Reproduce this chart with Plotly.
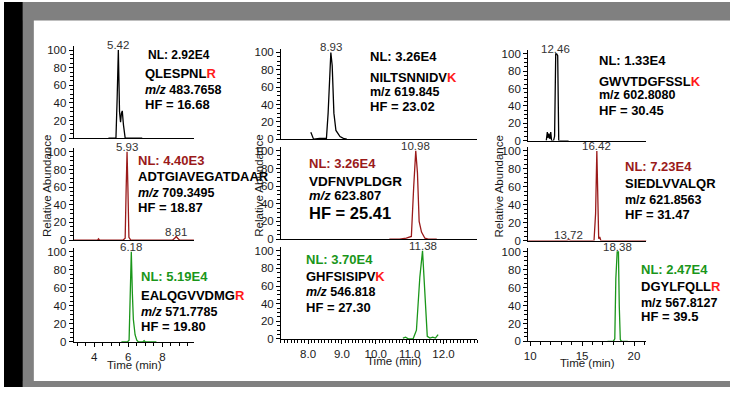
import plotly.graph_objects as go

W, H = 730, 393
FONT = "Liberation Sans, Arial, sans-serif"
BLACK = "#000000"
DRED = "#9a1a1a"
GREEN = "#1a961a"
RED = "#ff1a1a"

# ---------------- data ----------------
# row 1 (black), row 2 (dark red), row 3 (green); columns left -> right
a_time = [4.84, 5.1, 5.28, 5.35, 5.42, 5.49, 5.55, 5.6, 5.65, 5.72, 5.82, 6.2, 6.82]
a_int = [0, 0, 0, 45, 100, 30, 18, 28, 31, 15, 0, 0, 0]

b_time = [8.34, 8.38, 8.42, 8.6, 8.8, 8.85, 8.9, 8.93, 8.97, 9.02, 9.08, 9.12, 9.2, 9.3, 9.4]
b_int = [8, 3, 0, 1, 1, 30, 90, 100, 85, 30, 10, 8, 3, 1, 0]

c_time = [11.55, 11.65, 11.72, 11.8, 11.9, 11.98, 12.06, 12.15, 12.25, 12.35, 12.42, 12.46,
          12.55, 12.65, 12.75, 13.0, 13.7]
c_int = [0, 10, 3, 8, 2, 10, 0, 0, 0, 5, 90, 100, 100, 98, 0, 0, 0]

d_time = [2.8, 4.2, 4.26, 4.32, 5.7, 5.82, 5.88, 5.93, 5.98, 6.04, 6.15, 8.6, 8.72, 8.81,
          8.9, 9.0, 9.85]
d_int = [0, 0, 1.5, 0, 0, 2, 60, 100, 60, 3, 0, 0, 2, 4, 2, 0, 0]

e_time = [10.2, 10.5, 10.7, 10.85, 10.92, 10.98, 11.03, 11.08, 11.15, 11.25, 11.35, 11.6]
e_int = [0, 0, 1, 3, 60, 100, 75, 20, 8, 1, 0, 0]

f_time = [9.8, 13.5, 13.72, 13.9, 16.15, 16.3, 16.42, 16.52, 16.6, 16.7, 16.8, 21.2]
f_int = [0, 0, 1, 0, 0, 30, 100, 30, 2, 4, 0, 0]

g_time = [5.6, 5.95, 6.05, 6.12, 6.18, 6.24, 6.3, 6.4, 6.5, 6.6, 6.85, 6.93, 7.0, 7.65]
g_int = [0, 0, 2, 60, 100, 55, 25, 8, 2, 0, 0, 1.5, 0, 0]

h_time = [10.8, 10.88, 10.97, 11.1, 11.2, 11.3, 11.38, 11.45, 11.52, 11.6, 11.68, 11.76, 11.84]
h_int = [1, 2, 0, 0, 10, 70, 100, 50, 3, 1, 2, 1, 5]

i_time = [17.45, 18.0, 18.15, 18.25, 18.38, 18.5, 18.58, 18.68, 18.8, 19.4]
i_int = [0, 0, 3, 70, 100, 100, 40, 2, 0, 0]

nl_labels = ["2.92E4", "3.26E4", "1.33E4", "4.40E3", "3.26E4", "7.23E4", "5.19E4", "3.70E4", "2.47E4"]
peptides = ["QLESPNLR", "NILTSNNIDVK", "GWVTDGFSSLK", "ADTGIAVEGATDAAR", "VDFNVPLDGR",
            "SIEDLVVALQR", "EALQGVVDMGR", "GHFSISIPVK", "DGYLFQLLR"]
mz_values = ["483.7658", "619.845", "602.8080", "709.3495", "623.807", "621.8563",
             "571.7785", "546.818", "567.8127"]
hf_values = ["16.68", "23.02", "30.45", "18.87", "25.41", "31.47", "19.80", "27.30", "39.5"]
apex_times = [5.42, 8.93, 12.46, 5.93, 10.98, 16.42, 6.18, 11.38, 18.38]
minor_peaks = [(3, 8.81, 4), (5, 13.72, 1)]

y_ticks = [0, 20, 40, 60, 80, 100]
x_ticks_col = [[4, 6, 8], [8, 9, 10, 11, 12], [10, 15, 20]]
x_ticktext_col = [["4", "6", "8"], ["8.0", "9.0", "10.0", "11.0", "12.0"], ["10", "15", "20"]]

# ---------------- layout / style ----------------
times = [a_time, b_time, c_time, d_time, e_time, f_time, g_time, h_time, i_time]
ints = [a_int, b_int, c_int, d_int, e_int, f_int, g_int, h_int, i_int]
row_colors = [BLACK, DRED, GREEN]
heavy = [True, True, True, False, False, False, True, True, True]
italic_mz = [True, False, False, True, True, False, True, True, False]

col_px = [(70, 191), (278.5, 476), (527, 646)]
# (y of 0, y of 100) in pixels for each panel
ypx = [(139, 49), (140, 51.5), (141.5, 53),
       (243, 153), (242, 152), (243.5, 152),
       (347, 255), (344, 254), (346.5, 255)]
x_ranges = [[2.8, 9.85], [7.46, 13.25], [9.8, 21.2],
            [2.8, 9.85], [7.0, 12.8], [9.8, 21.2],
            [2.8, 9.85], [7.2, 13.0], [9.8, 21.2]]
x_minor = [0.5, 0.1, 1]
YTOP = 104

# text blocks: (x_nl, x_block, y_nl, y_pep, y_mz, y_hf)
blocks = [(143, 140, 54, 73, 90, 105), (366, 366, 56, 77, 92, 107), (596, 596, 60, 81, 95, 111),
          (133, 133, 162, 178, 195, 210), (305, 305, 165, 183, 198, 215), (622, 622, 168, 185, 202, 217),
          (136, 136, 280, 300, 316, 331), (302, 302, 263, 280, 296, 312), (638, 638, 273, 290, 307, 321)]


def px(x):
    return x / W


def py(y):
    return 1 - y / H


fig = go.Figure()
layout = dict(
    width=W, height=H, margin=dict(l=0, r=0, t=0, b=0),
    paper_bgcolor="white", plot_bgcolor="rgba(0,0,0,0)",
    showlegend=False, font=dict(family=FONT, size=11.5, color="#1a1a1a"),
)
annotations = []

for k in range(9):
    r, c = divmod(k, 3)
    sfx = "" if k == 0 else str(k + 1)
    color = row_colors[r]
    fig.add_trace(go.Scatter(x=times[k], y=ints[k], mode="lines",
                             line=dict(color=color, width=1.3),
                             xaxis="x" + sfx, yaxis="y" + sfx, hoverinfo="skip"))
    y0, y100 = ypx[k]
    ytop = y0 - (y0 - y100) * YTOP / 100
    xd = [px(col_px[c][0]), px(col_px[c][1])]
    yd = [py(y0), py(ytop)]
    xa = dict(domain=xd, range=x_ranges[k], anchor="y" + sfx, showgrid=False, zeroline=False,
              showline=True, linecolor="black", linewidth=1, fixedrange=True)
    if r == 2:
        xa.update(tickmode="array", tickvals=x_ticks_col[c], ticktext=x_ticktext_col[c],
                  ticks="outside", ticklen=4, tickcolor="black", tickwidth=1,
                  tickfont=dict(size=11.5, color="#1a1a1a"),
                  minor=dict(tickmode="linear", dtick=x_minor[c], tick0=0, ticks="outside",
                             ticklen=3, tickcolor="black", tickwidth=1))
    else:
        xa.update(showticklabels=False, ticks="")
    ya = dict(domain=yd, range=[0, YTOP], anchor="x" + sfx, showgrid=False, zeroline=False,
              showline=True, linecolor="black", linewidth=1, fixedrange=True,
              tickmode="array", tickvals=y_ticks, ticks="outside", ticklen=4, tickcolor="black",
              tickfont=dict(size=11.5, color="#1a1a1a"),
              minor=dict(tickmode="linear", dtick=5, tick0=0, ticks="outside", ticklen=3,
                         tickcolor="black", tickwidth=1))
    layout["xaxis" + sfx] = xa
    layout["yaxis" + sfx] = ya

    # apex label
    annotations.append(dict(x=apex_times[k], y=100, xref="x" + sfx, yref="y" + sfx,
                            text=f"{apex_times[k]:.2f}", showarrow=False, yanchor="middle",
                            yshift=5, font=dict(size=11.5, color="#333333")))

    # text block
    xnl, xb, ynl, ypep, ymz, yhf = blocks[k]
    big = (k == 4)
    nl_size = 12 if k == 0 else 13
    annotations.append(dict(x=px(xnl), y=py(ynl), xref="paper", yref="paper", xanchor="left",
                            yanchor="middle", showarrow=False, text=f"<b>NL: {nl_labels[k]}</b>",
                            font=dict(size=nl_size, color=color)))
    pep = peptides[k]
    if heavy[k]:
        pep_txt = f"<b>{pep[:-1]}<span style='color:{RED}'>{pep[-1]}</span></b>"
    else:
        pep_txt = f"<b>{pep}</b>"
    annotations.append(dict(x=px(xb), y=py(ypep), xref="paper", yref="paper", xanchor="left",
                            yanchor="middle", showarrow=False, text=pep_txt,
                            font=dict(size=13.5 if big else 13, color="black")))
    mz_lab = "<i>m/z</i>" if italic_mz[k] else "m/z"
    annotations.append(dict(x=px(xb), y=py(ymz), xref="paper", yref="paper", xanchor="left",
                            yanchor="middle", showarrow=False,
                            text=f"<b>{mz_lab} {mz_values[k]}</b>",
                            font=dict(size=13 if big else 12.5, color="black")))
    annotations.append(dict(x=px(xb), y=py(yhf), xref="paper", yref="paper", xanchor="left",
                            yanchor="middle", showarrow=False, text=f"<b>HF = {hf_values[k]}</b>",
                            font=dict(size=16.5 if big else 13, color="black")))

for k, t, h in minor_peaks:
    sfx = str(k + 1)
    annotations.append(dict(x=t, y=h, xref="x" + sfx, yref="y" + sfx, text=f"{t:.2f}",
                            showarrow=False, yanchor="middle", yshift=5,
                            font=dict(size=11.5, color="#333333")))

# axis titles
for xc in (43, 257, 498):
    annotations.append(dict(x=px(xc), y=py(188), xref="paper", yref="paper", text="Relative Abundance",
                            textangle=-90, showarrow=False, xanchor="center", yanchor="middle",
                            font=dict(size=11.5, color="#1a1a1a")))
for xc, yc in ((131, 371), (393, 366), (587, 369)):
    annotations.append(dict(x=px(xc), y=py(yc), xref="paper", yref="paper", text="Time (min)",
                            showarrow=False, xanchor="center", yanchor="middle",
                            font=dict(size=11.5, color="#1a1a1a")))

layout["annotations"] = annotations

# frame
GRAY = "#808080"
layout["shapes"] = [
    dict(type="rect", xref="paper", yref="paper", x0=0, x1=px(19), y0=0, y1=1,
         fillcolor="black", line=dict(width=0), layer="below"),
    dict(type="rect", xref="paper", yref="paper", x0=px(19), x1=1, y0=py(19), y1=1,
         fillcolor=GRAY, line=dict(width=0), layer="below"),
    dict(type="rect", xref="paper", yref="paper", x0=px(19), x1=px(30), y0=0, y1=1,
         fillcolor=GRAY, line=dict(width=0), layer="below"),
    dict(type="rect", xref="paper", yref="paper", x0=px(19), x1=1, y0=0, y1=py(387),
         fillcolor=GRAY, line=dict(width=0), layer="below"),
]

fig.update_layout(**layout)
fig.write_html("out.html")
